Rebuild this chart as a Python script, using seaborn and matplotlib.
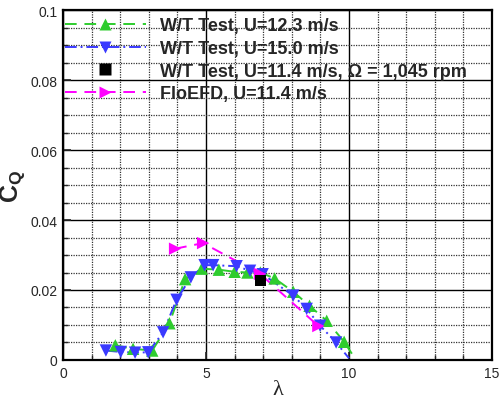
import matplotlib
matplotlib.use("Agg")
import matplotlib.pyplot as plt
from matplotlib.lines import Line2D
from matplotlib.ticker import MultipleLocator, FuncFormatter
import seaborn as sns
import pandas as pd

# ---- data ----
tsr_123 = [1.83, 2.45, 3.12, 3.72, 4.27, 4.85, 5.45, 6.0, 6.45, 6.9, 7.4, 8.05, 8.62, 9.22, 9.83]
cq_123 = [0.0042, 0.0032, 0.0027, 0.0105, 0.0231, 0.0261, 0.0258, 0.0252, 0.0250, 0.0250,
          0.0233, 0.0195, 0.0155, 0.0112, 0.0052]
tail_123 = (10.1, 0.0018)

tsr_150 = [1.5, 2.02, 2.52, 2.98, 3.5, 3.97, 4.47, 4.95, 5.25, 6.07, 6.54, 6.98, 8.05, 8.52, 8.99, 9.55]
cq_150 = [0.0027, 0.0023, 0.0021, 0.0022, 0.0079, 0.0172, 0.0236, 0.0271, 0.0271, 0.0268,
          0.0255, 0.0245, 0.0184, 0.0146, 0.0098, 0.0050]
tail_150 = (10.0, 0.0005)

tsr_114 = [6.9]
cq_114 = [0.0227]

tsr_cfd = [3.92, 4.9, 6.89, 8.93]
cq_cfd = [0.0318, 0.0334, 0.0246, 0.0097]

labels = ["W/T Test, U=12.3 m/s", "W/T Test, U=15.0 m/s",
          "W/T Test, U=11.4 m/s, \u03a9 = 1,045 rpm", "FloEFD, U=11.4 m/s"]
x_ticks = [0, 5, 10, 15]
y_ticks = [0, 0.02, 0.04, 0.06, 0.08, 0.1]

# ---- style ----
sns.set_style("white")
plt.rcParams["font.family"] = ["Liberation Sans", "DejaVu Sans"]
plt.rcParams["mathtext.fontset"] = "custom"
plt.rcParams["mathtext.rm"] = "Liberation Sans"
plt.rcParams["mathtext.bf"] = "Liberation Sans:bold"

green = "#2ecc2e"
blue = "#3a3aff"
mag = "#ff00ff"

fig = plt.figure(figsize=(5.0, 4.02), dpi=100)
ax = fig.add_axes([0.126, 0.102, 0.858, 0.8706])

df_g = pd.DataFrame({"x": tsr_123 + [tail_123[0]], "y": cq_123 + [tail_123[1]]})
df_b = pd.DataFrame({"x": tsr_150 + [tail_150[0]], "y": cq_150 + [tail_150[1]]})
df_m = pd.DataFrame({"x": tsr_cfd, "y": cq_cfd})

ls_g = (0, (6, 4))
ls_b = (0, (6, 2, 1, 2))
ls_m = (0, (6, 4))

sns.lineplot(data=df_g, x="x", y="y", ax=ax, color=green, lw=1.4, linestyle=ls_g,
             sort=False, estimator=None, legend=False, zorder=3)
sns.lineplot(data=df_b, x="x", y="y", ax=ax, color=blue, lw=1.4, linestyle=ls_b,
             sort=False, estimator=None, legend=False, zorder=3)
sns.lineplot(data=df_m, x="x", y="y", ax=ax, color=mag, lw=1.4, linestyle=ls_m,
             sort=False, estimator=None, legend=False, zorder=3)

sns.scatterplot(x=tsr_123, y=cq_123, ax=ax, marker="^", color=green, s=80,
                edgecolor="none", legend=False, zorder=4)
sns.scatterplot(x=tsr_150, y=cq_150, ax=ax, marker="v", color=blue, s=80,
                edgecolor="none", legend=False, zorder=4)
sns.scatterplot(x=tsr_114, y=cq_114, ax=ax, marker="s", color="black", s=60,
                edgecolor="none", legend=False, zorder=5)
sns.scatterplot(x=tsr_cfd, y=cq_cfd, ax=ax, marker=">", color=mag, s=80,
                edgecolor="none", legend=False, zorder=4)

ax.set_xlim(0, 15)
ax.set_ylim(0, 0.1)
ax.set_xticks(x_ticks)
ax.set_yticks(y_ticks)
ax.xaxis.set_minor_locator(MultipleLocator(1))
ax.yaxis.set_minor_locator(MultipleLocator(0.005))
ax.yaxis.set_major_formatter(FuncFormatter(lambda v, p: f"{v:g}"))
ax.xaxis.set_major_formatter(FuncFormatter(lambda v, p: f"{v:g}"))

ax.grid(which="major", color="black", linestyle="-", linewidth=1.0, zorder=1)
ax.grid(which="minor", color="#333333", linestyle=(0, (1, 1)), linewidth=0.9, zorder=1)
ax.set_axisbelow(True)

ax.tick_params(which="major", direction="in", length=6, width=1.2, labelsize=10, pad=4,
               left=True, bottom=True)
ax.tick_params(which="minor", direction="in", length=3.5, width=1.0, left=True, bottom=True)
for s in ax.spines.values():
    s.set_color("black")
    s.set_linewidth(1.6)

ax.set_xlabel("\u03bb", fontsize=16, family=["Liberation Serif", "DejaVu Serif"], labelpad=0)
ax.set_ylabel(r"$\mathbf{C_Q}$", fontsize=18)
ax.yaxis.set_label_coords(-0.083, 0.5)

handles = [
    Line2D([], [], color=green, lw=1.4, linestyle=ls_g, marker="^", markersize=9, markeredgecolor="none"),
    Line2D([], [], color=blue, lw=1.4, linestyle=ls_b, marker="v", markersize=9, markeredgecolor="none"),
    Line2D([], [], color="black", lw=0, marker="s", markersize=8, markeredgecolor="none"),
    Line2D([], [], color=mag, lw=1.4, linestyle=ls_m, marker=">", markersize=9, markeredgecolor="none"),
]
leg = ax.legend(handles, labels, loc="upper left", bbox_to_anchor=(0.0, 0.985),
                frameon=False, numpoints=1, handlelength=4.5, handletextpad=0.75,
                labelspacing=0.32, borderaxespad=0.0, borderpad=0.1,
                prop={"weight": "bold", "size": 13, "family": ["Liberation Sans", "DejaVu Sans"]})

fig.savefig("out.png", dpi=100)
